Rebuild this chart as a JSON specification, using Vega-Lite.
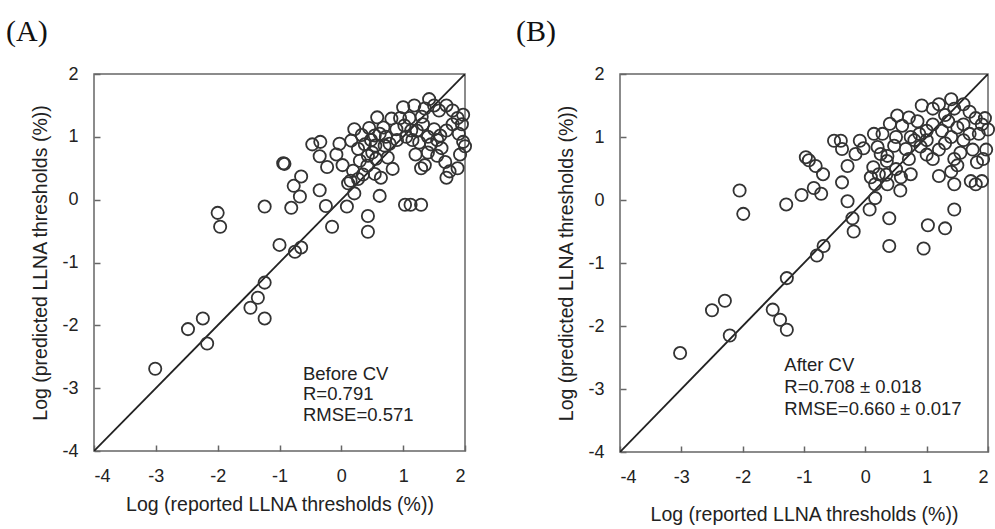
{
  "$schema": "https://vega.github.io/schema/vega-lite/v6.json",
  "padding": {"left": 5, "top": 16, "right": 0, "bottom": 0},
  "background": "white",
  "bounds": "flush",
  "config": {
    "font": "Liberation Sans",
    "view": {"stroke": "#666", "strokeWidth": 1.5},
    "axis": {
      "grid": false, "domain": false, "ticks": true, "tickSize": -6, "tickColor": "#666", "tickWidth": 1.5,
      "labelFontSize": 18, "labelColor": "#222", "labelPadding": 22, "labelExpr": "'' + datum.value",
      "titleFontSize": 19.5, "titleFontWeight": "normal", "titleColor": "#222"
    },
    "title": {"font": "Liberation Serif", "fontSize": 30, "fontWeight": "normal", "color": "#111", "anchor": "start", "frame": "group"}
  },
  "datasets": {
    "diag": [{"x": -4, "y": -4}, {"x": 2, "y": 2}],
    "noteA": [
      {"x": -0.62, "y": -2.78, "t": "Before CV"},
      {"x": -0.62, "y": -3.1, "t": "R=0.791"},
      {"x": -0.62, "y": -3.43, "t": "RMSE=0.571"}
    ],
    "noteB": [
      {"x": -1.32, "y": -2.62, "t": "After CV"},
      {"x": -1.32, "y": -2.97, "t": "R=0.708 ± 0.018"},
      {"x": -1.32, "y": -3.32, "t": "RMSE=0.660 ± 0.017"}
    ],
    "a": [
      {"x": -3.01, "y": -2.69}, {"x": -2.48, "y": -2.06}, {"x": -2.24, "y": -1.89}, {"x": -2.17, "y": -2.29},
      {"x": -2.0, "y": -0.21}, {"x": -1.96, "y": -0.43}, {"x": -1.47, "y": -1.72}, {"x": -1.35, "y": -1.56},
      {"x": -1.24, "y": -1.32}, {"x": -1.24, "y": -1.89}, {"x": -1.24, "y": -0.11}, {"x": -1.0, "y": -0.72},
      {"x": -0.94, "y": 0.58}, {"x": -0.92, "y": 0.57}, {"x": -0.81, "y": -0.13}, {"x": -0.77, "y": 0.22},
      {"x": -0.75, "y": -0.83}, {"x": -0.65, "y": -0.76}, {"x": -0.65, "y": 0.37}, {"x": -0.67, "y": 0.05},
      {"x": -0.47, "y": 0.88}, {"x": -0.34, "y": 0.92}, {"x": -0.35, "y": 0.69}, {"x": -0.23, "y": 0.52},
      {"x": -0.35, "y": 0.15}, {"x": -0.25, "y": -0.1}, {"x": -0.15, "y": -0.43}, {"x": -0.03, "y": 0.89},
      {"x": -0.08, "y": 0.72}, {"x": 0.02, "y": 0.55}, {"x": 0.09, "y": -0.11}, {"x": 0.11, "y": 0.26},
      {"x": 0.21, "y": 0.1}, {"x": 0.19, "y": 0.46}, {"x": 0.27, "y": 0.33}, {"x": 0.21, "y": 1.12},
      {"x": 0.16, "y": 0.94}, {"x": 0.27, "y": 0.81}, {"x": 0.33, "y": 1.03}, {"x": 0.43, "y": 0.7},
      {"x": 0.42, "y": 0.54}, {"x": 0.45, "y": 1.14}, {"x": 0.58, "y": 1.31}, {"x": 0.54, "y": 1.02},
      {"x": 0.55, "y": 0.86}, {"x": 0.56, "y": 0.65}, {"x": 0.54, "y": 0.41}, {"x": 0.64, "y": 0.35},
      {"x": 0.43, "y": -0.26}, {"x": 0.43, "y": -0.51}, {"x": 0.62, "y": 0.06}, {"x": 0.7, "y": 0.86},
      {"x": 0.78, "y": 0.89}, {"x": 0.81, "y": 1.29}, {"x": 0.83, "y": 0.49}, {"x": 0.75, "y": 0.67},
      {"x": 0.89, "y": 1.12}, {"x": 1.0, "y": 1.47}, {"x": 1.02, "y": 1.18}, {"x": 1.18, "y": 1.5},
      {"x": 1.13, "y": 1.1}, {"x": 1.03, "y": -0.08}, {"x": 1.12, "y": -0.08}, {"x": 1.26, "y": 0.91},
      {"x": 1.29, "y": -0.08}, {"x": 1.29, "y": 0.5}, {"x": 0.38, "y": 0.88}, {"x": 0.48, "y": 0.95},
      {"x": 0.62, "y": 1.05}, {"x": 0.68, "y": 1.15}, {"x": 0.72, "y": 1.0}, {"x": 0.9, "y": 0.95},
      {"x": 0.95, "y": 1.3}, {"x": 0.3, "y": 0.62}, {"x": 0.5, "y": 0.75}, {"x": 0.35, "y": 0.4},
      {"x": 0.15, "y": 0.3}, {"x": 1.35, "y": 1.45}, {"x": 1.42, "y": 1.6}, {"x": 1.5, "y": 1.5},
      {"x": 1.58, "y": 1.42}, {"x": 1.7, "y": 1.5}, {"x": 1.8, "y": 1.42}, {"x": 1.88, "y": 1.3},
      {"x": 1.95, "y": 1.2}, {"x": 1.97, "y": 1.35}, {"x": 1.8, "y": 1.2}, {"x": 1.7, "y": 1.1},
      {"x": 1.6, "y": 1.02}, {"x": 1.5, "y": 1.12}, {"x": 1.4, "y": 1.0}, {"x": 1.32, "y": 1.2},
      {"x": 1.22, "y": 1.1}, {"x": 1.1, "y": 1.3}, {"x": 1.45, "y": 0.88}, {"x": 1.4, "y": 0.75},
      {"x": 1.55, "y": 0.7}, {"x": 1.68, "y": 0.6}, {"x": 1.75, "y": 0.45}, {"x": 1.7, "y": 0.35},
      {"x": 1.88, "y": 0.5}, {"x": 1.92, "y": 0.72}, {"x": 1.97, "y": 0.92}, {"x": 2.0, "y": 0.85},
      {"x": 1.62, "y": 0.82}, {"x": 1.35, "y": 0.55}, {"x": 1.2, "y": 0.72}, {"x": 1.9, "y": 1.05},
      {"x": 1.55, "y": 0.95}, {"x": 1.15, "y": 0.95}, {"x": 1.05, "y": 1.0}, {"x": 1.3, "y": 1.32}
    ],
    "b": [
      {"x": -3.02, "y": -2.43}, {"x": -2.5, "y": -1.75}, {"x": -2.29, "y": -1.6}, {"x": -2.21, "y": -2.15},
      {"x": -2.05, "y": 0.15}, {"x": -1.99, "y": -0.22}, {"x": -1.51, "y": -1.74}, {"x": -1.39, "y": -1.9},
      {"x": -1.28, "y": -2.06}, {"x": -1.28, "y": -1.24}, {"x": -1.29, "y": -0.07}, {"x": -1.04, "y": 0.08},
      {"x": -0.84, "y": 0.19}, {"x": -0.72, "y": 0.1}, {"x": -0.97, "y": 0.68}, {"x": -0.92, "y": 0.63},
      {"x": -0.81, "y": 0.54}, {"x": -0.69, "y": 0.41}, {"x": -0.79, "y": -0.88}, {"x": -0.68, "y": -0.73},
      {"x": -0.51, "y": 0.94}, {"x": -0.4, "y": 0.94}, {"x": -0.38, "y": 0.81}, {"x": -0.29, "y": 0.54},
      {"x": -0.38, "y": 0.28}, {"x": -0.29, "y": -0.02}, {"x": -0.21, "y": -0.29}, {"x": -0.19, "y": -0.5},
      {"x": -0.16, "y": 0.73}, {"x": -0.09, "y": 0.94}, {"x": -0.03, "y": 0.82}, {"x": 0.07, "y": -0.15},
      {"x": 0.16, "y": 0.03}, {"x": 0.13, "y": 0.52}, {"x": 0.09, "y": 0.36}, {"x": 0.16, "y": 0.25},
      {"x": 0.22, "y": 0.41}, {"x": 0.14, "y": 1.05}, {"x": 0.2, "y": 0.84}, {"x": 0.28, "y": 1.05},
      {"x": 0.25, "y": 0.73}, {"x": 0.35, "y": 0.62}, {"x": 0.34, "y": 0.4}, {"x": 0.36, "y": 0.25},
      {"x": 0.39, "y": -0.29}, {"x": 0.39, "y": -0.73}, {"x": 0.4, "y": 1.21}, {"x": 0.5, "y": 1.0},
      {"x": 0.47, "y": 0.86}, {"x": 0.36, "y": 0.7}, {"x": 0.57, "y": 0.15}, {"x": 0.58, "y": 0.36},
      {"x": 0.5, "y": 0.49}, {"x": 0.52, "y": 1.34}, {"x": 0.66, "y": 0.81}, {"x": 0.6, "y": 1.18},
      {"x": 0.71, "y": 1.31}, {"x": 0.71, "y": 0.65}, {"x": 0.74, "y": 0.41}, {"x": 0.74, "y": 1.0},
      {"x": 0.85, "y": 1.25}, {"x": 0.92, "y": 1.5}, {"x": 1.0, "y": 1.1}, {"x": 1.1, "y": 1.45},
      {"x": 1.2, "y": 1.52}, {"x": 1.3, "y": 1.35}, {"x": 1.4, "y": 1.6}, {"x": 1.45, "y": 1.45},
      {"x": 1.6, "y": 1.52}, {"x": 1.7, "y": 1.4}, {"x": 1.8, "y": 1.3}, {"x": 1.9, "y": 1.2},
      {"x": 1.95, "y": 1.3}, {"x": 2.0, "y": 1.12}, {"x": 1.85, "y": 1.05}, {"x": 1.7, "y": 1.05},
      {"x": 1.6, "y": 1.2}, {"x": 1.5, "y": 1.15}, {"x": 1.4, "y": 1.0}, {"x": 1.3, "y": 0.9},
      {"x": 1.2, "y": 0.8}, {"x": 1.1, "y": 0.65}, {"x": 1.0, "y": 0.72}, {"x": 0.9, "y": 0.85},
      {"x": 1.45, "y": 0.65}, {"x": 1.4, "y": 0.45}, {"x": 1.45, "y": 0.25}, {"x": 1.45, "y": -0.15},
      {"x": 1.3, "y": -0.45}, {"x": 1.02, "y": -0.4}, {"x": 0.95, "y": -0.77}, {"x": 1.72, "y": 0.3},
      {"x": 1.75, "y": 0.8}, {"x": 1.82, "y": 0.6}, {"x": 1.92, "y": 0.65}, {"x": 1.97, "y": 0.8},
      {"x": 1.8, "y": 0.25}, {"x": 1.9, "y": 0.3}, {"x": 1.6, "y": 0.95}, {"x": 1.55, "y": 0.75},
      {"x": 1.5, "y": 0.55}, {"x": 1.2, "y": 0.38}, {"x": 1.1, "y": 1.2}, {"x": 1.0, "y": 0.95},
      {"x": 1.25, "y": 1.1}, {"x": 1.35, "y": 1.25}, {"x": 0.8, "y": 0.95}, {"x": 0.88, "y": 1.05}
    ]
  },
  "spacing": 155,
  "hconcat": [
    {
      "width": 371, "height": 377,
      "title": {"text": "(A)", "offset": 18, "dx": -88},
      "layer": [
        {
          "data": {"name": "diag"},
          "mark": {"type": "line", "color": "#222", "strokeWidth": 1.8, "clip": true},
          "encoding": {
            "x": {"field": "x", "type": "quantitative", "scale": {"domain": [-4, 2], "nice": false},
              "axis": {"title": "Log (reported LLNA thresholds (%))", "values": [-4, -3, -2, -1, 0, 1, 2], "titlePadding": 10}},
            "y": {"field": "y", "type": "quantitative", "scale": {"domain": [-4, 2], "nice": false},
              "axis": {"title": "Log (predicted LLNA thresholds (%))", "values": [-4, -3, -2, -1, 0, 1, 2], "titlePadding": 11}}
          }
        },
        {
          "data": {"name": "a"},
          "mark": {"type": "point", "shape": "circle", "size": 150, "filled": false, "stroke": "#333", "strokeWidth": 1.8, "opacity": 1},
          "encoding": {
            "x": {"field": "x", "type": "quantitative", "scale": {"domain": [-4, 2], "nice": false}},
            "y": {"field": "y", "type": "quantitative", "scale": {"domain": [-4, 2], "nice": false}}
          }
        },
        {
          "data": {"name": "noteA"},
          "mark": {"type": "text", "align": "left", "baseline": "middle", "fontSize": 18.5, "color": "#222"},
          "encoding": {
            "x": {"field": "x", "type": "quantitative", "scale": {"domain": [-4, 2], "nice": false}},
            "y": {"field": "y", "type": "quantitative", "scale": {"domain": [-4, 2], "nice": false}},
            "text": {"field": "t"}
          }
        }
      ]
    },
    {
      "width": 368, "height": 378,
      "title": {"text": "(B)", "offset": 18, "dx": -104},
      "layer": [
        {
          "data": {"name": "diag"},
          "mark": {"type": "line", "color": "#222", "strokeWidth": 1.8, "clip": true},
          "encoding": {
            "x": {"field": "x", "type": "quantitative", "scale": {"domain": [-4, 2], "nice": false},
              "axis": {"title": "Log (reported LLNA thresholds (%))", "values": [-4, -3, -2, -1, 0, 1, 2], "titlePadding": 19}},
            "y": {"field": "y", "type": "quantitative", "scale": {"domain": [-4, 2], "nice": false},
              "axis": {"title": "Log (predicted LLNA thresholds (%))", "values": [-4, -3, -2, -1, 0, 1, 2], "titlePadding": 11}}
          }
        },
        {
          "data": {"name": "b"},
          "mark": {"type": "point", "shape": "circle", "size": 150, "filled": false, "stroke": "#333", "strokeWidth": 1.8, "opacity": 1},
          "encoding": {
            "x": {"field": "x", "type": "quantitative", "scale": {"domain": [-4, 2], "nice": false}},
            "y": {"field": "y", "type": "quantitative", "scale": {"domain": [-4, 2], "nice": false}}
          }
        },
        {
          "data": {"name": "noteB"},
          "mark": {"type": "text", "align": "left", "baseline": "middle", "fontSize": 18.5, "color": "#222"},
          "encoding": {
            "x": {"field": "x", "type": "quantitative", "scale": {"domain": [-4, 2], "nice": false}},
            "y": {"field": "y", "type": "quantitative", "scale": {"domain": [-4, 2], "nice": false}},
            "text": {"field": "t"}
          }
        }
      ]
    }
  ]
}
